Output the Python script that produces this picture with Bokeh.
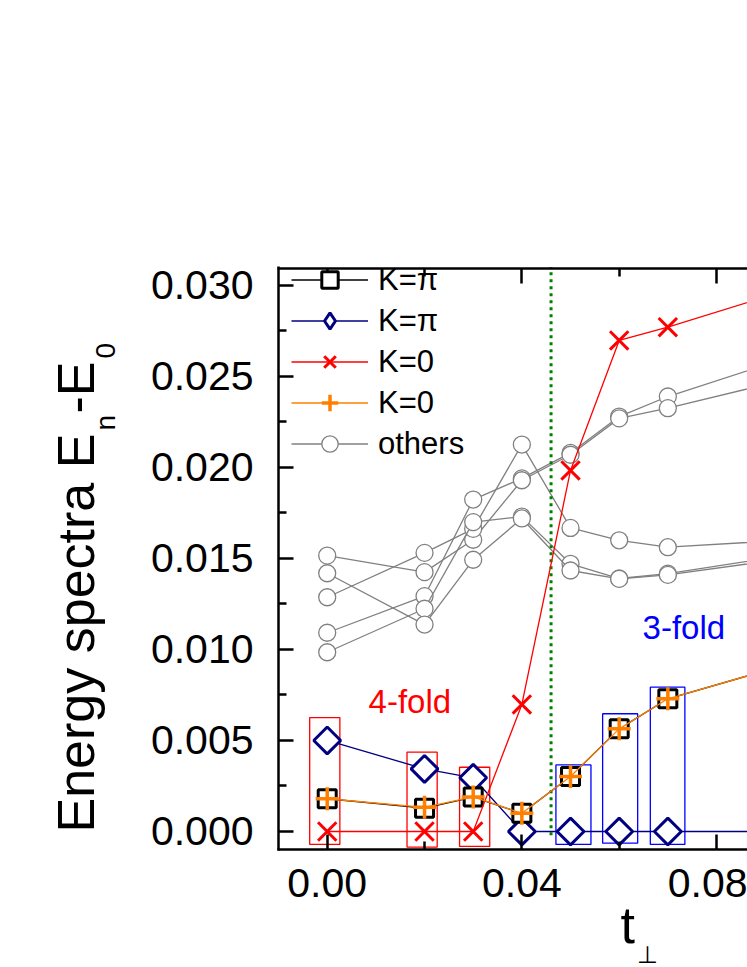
import math
from bokeh.plotting import figure
from bokeh.models import (LinearAxis, FixedTicker, PrintfTickFormatter, Legend,
                          LegendItem, Label, Range1d)
from bokeh.embed import file_html
from bokeh.resources import INLINE

# ---------------- data ----------------
t = [0.00, 0.02, 0.03, 0.04, 0.05, 0.06, 0.07, 0.10]
sq_kpi = [0.0018, 0.00128, 0.00189, 0.0010, 0.00302, 0.00564, 0.00729, 0.0096]
dia_kpi = [0.0050, 0.00344, 0.00295, 0.0, 0.0, 0.0, 0.0, 0.0]
x_k0 = [0.0, 0.0, 0.0, 0.00698, 0.01984, 0.02698, 0.02771, 0.0302]
plus_k0 = [0.0018, 0.00133, 0.0019, 0.0010, 0.00302, 0.00564, 0.00729, 0.0096]

others_a = [0.01092, 0.01293, 0.01824, 0.0194, 0.0208, 0.0228, 0.0239, 0.0265]
others_b = [0.01516, 0.01425, 0.01603, 0.0193, 0.0207, 0.0227, 0.02326, 0.0252]
others_c = [0.01287, 0.01531, 0.01663, 0.02126, 0.01668, 0.0160, 0.01562, 0.0161]
others_d = [0.00985, 0.01224, 0.0170, 0.0173, 0.01471, 0.0139, 0.01417, 0.0154]
others_e = [0.01419, 0.01137, 0.01493, 0.0172, 0.01434, 0.01388, 0.0141, 0.0152]

# degeneracy boxes
box_left = [-0.0036, 0.0164, 0.0272, 0.0470, 0.0566, 0.0664]
box_right = [0.0026, 0.0226, 0.0334, 0.0542, 0.0638, 0.0735]
box_top = [0.00626, 0.00436, 0.00353, 0.00366, 0.00647, 0.00793]
box_bottom = [-0.00071, -0.00086, -0.00082, -0.00071, -0.00064, -0.00071]
box_colors = ["#FF0000", "#FF0000", "#FF0000", "#0000FF", "#0000FF", "#0000FF"]

# transition line
t_transition = 0.046
transition_y = [-0.0002, 0.031]

# axes extents (plot box) and ticks
x_lo, x_hi = -0.01001, 0.0900
y_lo, y_hi = -0.001, 0.03095
x_major = [0.00, 0.04, 0.08]
x_minor = [0.02, 0.06]
y_major = [0.000, 0.005, 0.010, 0.015, 0.020, 0.025, 0.030]
y_minor = [0.0025, 0.0075, 0.0125, 0.0175, 0.0225, 0.0275]

FONT = "Liberation Sans"
GRAY = "#808080"
W, H = 747, 967

p = figure(width=W, height=H, output_backend="svg", toolbar_location=None,
           x_range=Range1d(-0.06714, 0.08637), y_range=Range1d(-0.0074725, 0.045659),
           x_axis_location=None, y_axis_location=None,
           min_border=0, min_border_left=0, min_border_right=0,
           min_border_top=0, min_border_bottom=0)
p.outline_line_color = None
p.grid.visible = False
p.background_fill_color = "white"


def style_axis(ax, show_labels=True):
    ax.axis_line_width = 2.5
    ax.axis_line_color = "black"
    ax.major_tick_line_width = 2.5
    ax.minor_tick_line_width = 2.5
    ax.major_tick_in = 15
    ax.major_tick_out = 0
    ax.minor_tick_in = 8
    ax.minor_tick_out = 0
    ax.major_label_text_font = FONT
    ax.major_label_text_font_size = "41px"
    ax.major_label_text_color = "black" if show_labels else None


x_ticker = FixedTicker(ticks=x_major, minor_ticks=x_minor)
y_ticker = FixedTicker(ticks=y_major, minor_ticks=y_minor)

bottom_axis = LinearAxis(ticker=x_ticker, formatter=PrintfTickFormatter(format="%.2f"),
                         fixed_location=y_lo, bounds=(x_lo - 0.00026, x_hi))
style_axis(bottom_axis)
bottom_axis.major_label_standoff = 19
p.add_layout(bottom_axis, "below")

left_axis = LinearAxis(ticker=y_ticker, formatter=PrintfTickFormatter(format="%.3f"),
                       fixed_location=x_lo, bounds=(y_lo - 0.00007, y_hi + 0.00007))
style_axis(left_axis)
left_axis.major_label_standoff = 25
p.add_layout(left_axis, "left")

top_axis = LinearAxis(ticker=FixedTicker(ticks=x_major, minor_ticks=x_minor),
                      fixed_location=y_hi, bounds=(x_lo - 0.00026, x_hi))
style_axis(top_axis, show_labels=False)
p.add_layout(top_axis, "above")

# boxes
p.quad(left=box_left, right=box_right, top=box_top, bottom=box_bottom,
       fill_color=None, line_color=box_colors, line_width=1.3)

# others
others_renderers = []
for s in [others_a, others_b, others_c, others_d, others_e]:
    l = p.line(t, s, line_color=GRAY, line_width=1.3)
    m = p.scatter(t, s, marker="circle", size=17, line_color=GRAY,
                  fill_color="white", line_width=1.3)
    others_renderers.append((l, m))

# transition line
p.line([t_transition, t_transition], transition_y, line_color="#008000",
       line_width=3, line_dash="3 4")

# K=pi diamonds
dia_l = p.line(t, dia_kpi, line_color="#000080", line_width=1.3)
# legend proxy (hidden under the diamonds): diamond-shaped legend symbol
dia_key = p.scatter(t, dia_kpi, marker="diamond", size=1, line_color="#000080",
                    fill_color="white", line_width=3)
dia_m = p.scatter(t, dia_kpi, marker="square", angle=math.pi / 4, size=19,
                  line_color="#000080", fill_color="white", line_width=3)

# K=pi squares
sq_l = p.line(t, sq_kpi, line_color="black", line_width=1.3)
sq_m = p.scatter(t, sq_kpi, marker="square", size=18, line_color="black",
                 fill_color="white", line_width=3)

# K=0 crosses
x_l = p.line(t, x_k0, line_color="#FF0000", line_width=1.3)
x_m = p.scatter(t, x_k0, marker="x", size=26, line_color="#FF0000", line_width=3)

# K=0 plus
pl_l = p.line(t, plus_k0, line_color="#FF8000", line_width=1.3)
pl_m = p.scatter(t, plus_k0, marker="cross", size=23, line_color="#FF8000",
                 line_width=3.5)

legend = Legend(items=[
    LegendItem(label="K=\u03c0", renderers=[sq_l, sq_m]),
    LegendItem(label="K=\u03c0", renderers=[dia_l, dia_key]),
    LegendItem(label="K=0", renderers=[x_l, x_m]),
    LegendItem(label="K=0", renderers=[pl_l, pl_m]),
    LegendItem(label="others", renderers=list(others_renderers[0])),
], location=(291, 503), glyph_width=77, glyph_height=41, label_height=41,
    spacing=0, padding=0, margin=0, label_standoff=10,
    label_text_font=FONT, label_text_font_size="31px", label_text_color="black",
    border_line_color=None, background_fill_alpha=0)
p.add_layout(legend, "center")

# text annotations
p.add_layout(Label(x=0.0085, y=0.00716, text="4-fold", text_color="#FF0000",
                   text_font=FONT, text_font_size="33px", text_baseline="middle"))
p.add_layout(Label(x=0.0648, y=0.01123, text="3-fold", text_color="#0000FF",
                   text_font=FONT, text_font_size="33px", text_baseline="middle"))

# y axis title (screen px from the canvas bottom-left)
ylab = dict(x_units="screen", y_units="screen", angle=math.pi / 2,
            text_font=FONT, text_align="left", text_baseline="middle",
            text_color="black")
p.add_layout(Label(x=75, y=135, text="Energy spectra E", text_font_size="52px", **ylab))
p.add_layout(Label(x=105, y=537, text="n", text_font_size="28px", **ylab))
p.add_layout(Label(x=75, y=554, text="-E", text_font_size="52px", **ylab))
p.add_layout(Label(x=105, y=609, text="0", text_font_size="28px", **ylab))

# x axis title
xlab = dict(x_units="screen", y_units="screen", text_font=FONT,
            text_align="left", text_baseline="middle", text_color="black")
p.add_layout(Label(x=620, y=43, text="t", text_font_size="52px", **xlab))
p.add_layout(Label(x=636, y=13, text="\u22a5", text_font_size="24px", **xlab))

open("out.html", "w").write(file_html(p, INLINE))
